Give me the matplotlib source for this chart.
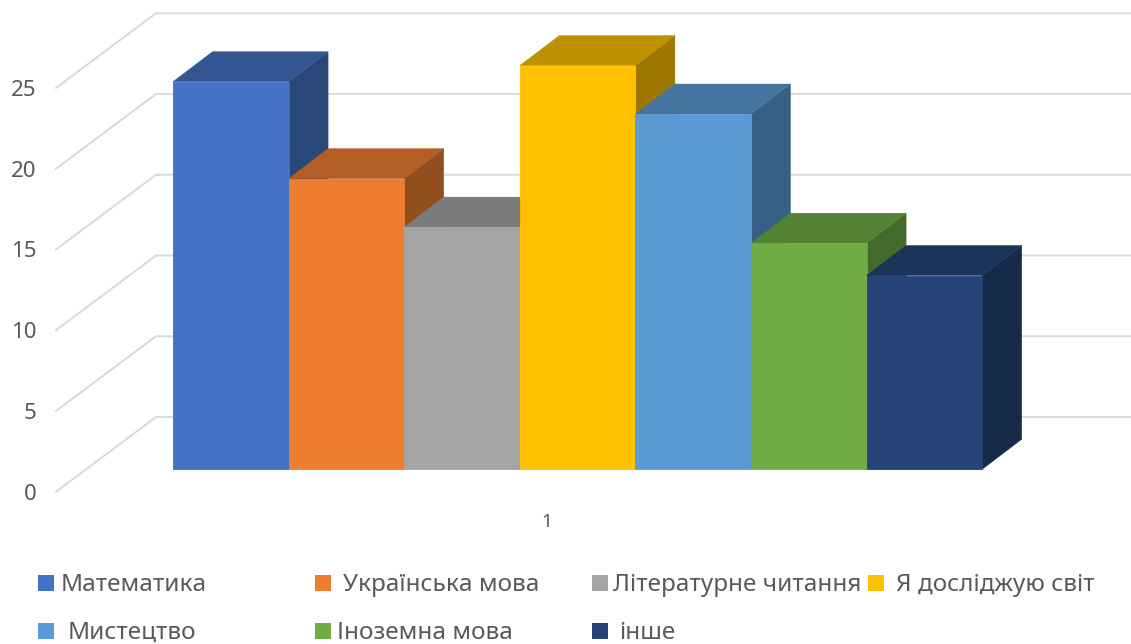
import matplotlib
matplotlib.use("Agg")
import matplotlib.pyplot as plt
from matplotlib.colors import to_rgb
from matplotlib.patches import Polygon, Rectangle
from matplotlib.transforms import Affine2D

categories = ["Математика", "Українська мова", "Літературне читання", "Я досліджую світ",
              "Мистецтво", "Іноземна мова", "інше"]
values = [24, 18, 15, 25, 22, 14, 12]
colors = ["#4472C4", "#ED7D31", "#A5A5A5", "#FFC000", "#5B9BD5", "#70AD47", "#264478"]
y_ticks = [0, 5, 10, 15, 20, 25]
x_tick_labels = ["1"]

W, H = 1131, 644
plt.rcParams["font.family"] = ["Noto Sans", "DejaVu Sans"]
TEXT = "#595959"
GRID = "#D9D9D9"

fig = plt.figure(figsize=(W / 100, H / 100), dpi=100, facecolor="white")
PX_X = 115.6   # pixels per bar
PX_Y = 16.15   # pixels per unit
AX_L, AX_B = 56, 491.7
ax = fig.add_axes([AX_L / W, 1 - AX_B / H, (W - AX_L) / W, AX_B / H])
BAR_LEFT = 173
ax.set_xlim((AX_L - BAR_LEFT) / PX_X, (W - BAR_LEFT) / PX_X)
ax.set_ylim(0, AX_B / PX_Y)
for s in ax.spines.values():
    s.set_visible(False)

# walls / gridlines
wall_dx = 100 / PX_X
wall_dy = 74.7 / PX_Y
x0 = ax.get_xlim()[0]
x1 = ax.get_xlim()[1]
for v in y_ticks:
    ax.plot([x0, x0 + wall_dx, x1], [v, v + wall_dy, v + wall_dy], color=GRID, lw=1.4,
            solid_joinstyle="miter", zorder=1, clip_on=False)

# bars with fake depth
inset_px = 22.4
inset = inset_px / PX_Y
depth_x = 39.5 / PX_X
depth_y = 30 / PX_Y
z = 2
for i, (v, c) in enumerate(zip(values, colors)):
    rgb = to_rgb(c)
    side = tuple(ch * 0.62 for ch in rgb)
    top = tuple(ch * 0.75 for ch in rgb)
    xr = i + 1
    ax.add_patch(Polygon([(xr, inset), (xr + depth_x, inset + depth_y),
                          (xr + depth_x, inset + v + depth_y), (xr, inset + v)],
                         closed=True, facecolor=side, edgecolor=side, lw=0.3, zorder=z))
    ax.add_patch(Polygon([(i, inset + v), (xr, inset + v),
                          (xr + depth_x, inset + v + depth_y), (i + depth_x, inset + v + depth_y)],
                         closed=True, facecolor=top, edgecolor=top, lw=0.3, zorder=z + 0.1))
    ax.bar(i, v, width=1, align="edge", bottom=inset, color=c, edgecolor=c, lw=0.6, zorder=z + 0.2)
    z += 1

ax.set_yticks(y_ticks)
ax.tick_params(axis="y", length=0, pad=14, labelsize=16, labelcolor=TEXT)
for lab in ax.get_yticklabels():
    lab.set_clip_on(False)
ax.set_xticks([(547 - BAR_LEFT) / PX_X])
ax.set_xticklabels(x_tick_labels)
ax.tick_params(axis="x", length=0, pad=15, labelsize=13.5, labelcolor=TEXT)

# legend
legend_pos = [(38, 61, 582), (315, 343, 582), (592, 613, 582), (868, 896, 582),
              (38, 68, 630), (315, 337, 630), (592, 619, 630)]
for (sx, tx, cy), name, c in zip(legend_pos, categories, colors):
    fig.add_artist(Rectangle((sx / W, 1 - (cy + 9) / H), 16 / W, 16 / H, transform=fig.transFigure,
                             facecolor=c, edgecolor="none"))
    fig.text(tx / W, 1 - cy / H, name, ha="left", va="center_baseline", fontsize=17.5, color=TEXT)

fig.savefig("out.png", dpi=100)
